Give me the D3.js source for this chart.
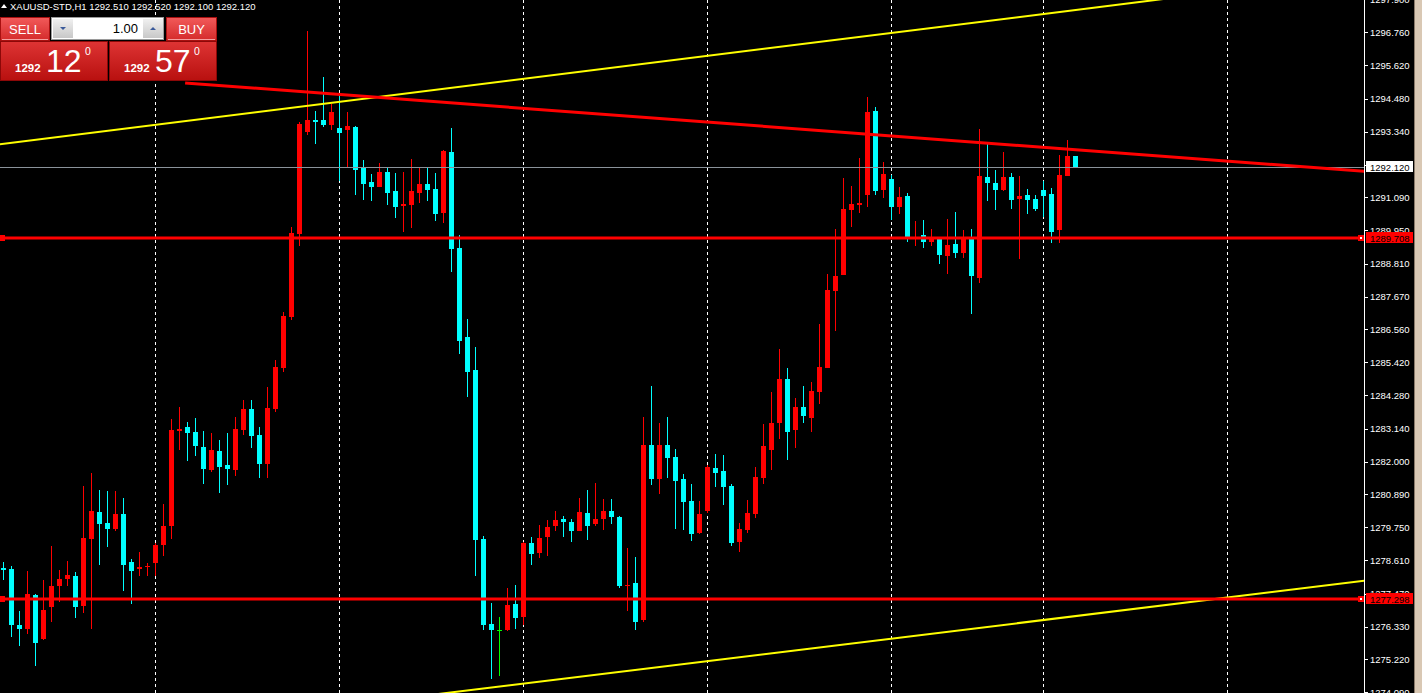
<!DOCTYPE html>
<html><head><meta charset="utf-8">
<script src="https://cdn.jsdelivr.net/npm/d3@7"></script>
<style>html,body{margin:0;padding:0;background:#000;overflow:hidden}</style>
</head><body><svg id="c" width="1422" height="693"></svg>
<script>
// ---------- DATA ----------
const symbolTitle = "XAUUSD-STD,H1";
const lastBarOHLC = ["1292.510", "1292.520", "1292.100", "1292.120"];
const opens = [1278.36,1278.33,1276.38,1276.24,1277.43,1275.90,1277.00,1277.72,1277.96,1278.08,
1277.03,1279.36,1280.28,1279.91,1279.70,1280.21,1278.57,1278.33,1278.39,1278.51,
1279.13,1279.81,1283.07,1283.20,1283.03,1282.52,1281.73,1282.38,1281.90,1281.73,
1283.10,1283.82,1282.93,1281.93,1283.82,1285.23,1286.98,1289.84,1293.35,1293.75,
1293.75,1293.59,1293.47,1293.41,1293.51,1292.11,1291.63,1291.46,1291.97,1291.32,
1290.80,1290.84,1291.25,1291.53,1291.39,1290.56,1292.64,1289.35,1286.29,1285.16,
1279.35,1276.44,1276.22,1276.22,1277.13,1276.68,1279.21,1278.85,1279.40,1279.81,
1280.04,1279.94,1279.64,1280.25,1279.85,1280.02,1280.32,1280.11,1277.72,1277.84,
1276.58,1282.58,1281.42,1282.58,1282.17,1281.42,1280.66,1279.56,1280.32,1281.79,
1281.69,1281.18,1279.25,1279.66,1280.21,1281.45,1282.41,1283.32,1284.86,1283.08,
1283.87,1283.49,1284.41,1285.24,1287.88,1288.43,1290.67,1290.84,1291.18,1294.07,
1291.35,1291.73,1290.74,1291.14,1289.65,1289.80,1289.57,1289.68,1289.09,1289.49,
1289.19,1289.67,1288.33,1291.79,1291.58,1291.35,1291.79,1291.04,1291.17,1291.03,
1291.34,1291.21,1289.98,1291.83,1292.51];
const highs = [1278.57,1278.43,1276.88,1278.26,1277.45,1277.95,1279.12,1278.29,1278.60,1278.22,
1281.18,1281.62,1281.04,1281.00,1281.00,1280.76,1278.67,1278.91,1278.53,1279.22,
1280.56,1283.48,1283.89,1283.37,1283.51,1283.07,1283.00,1282.76,1283.00,1283.55,
1284.13,1284.13,1283.20,1284.58,1285.50,1287.15,1290.07,1293.68,1296.81,1294.06,
1295.23,1294.30,1294.61,1294.02,1293.54,1292.38,1291.90,1292.28,1292.11,1291.94,
1291.97,1292.42,1292.14,1292.08,1291.94,1292.72,1293.47,1289.79,1286.91,1285.95,
1279.46,1277.14,1276.68,1277.67,1277.78,1279.23,1279.42,1279.84,1280.01,1280.32,
1280.15,1280.04,1280.76,1281.04,1281.28,1280.73,1280.73,1280.13,1279.05,1278.74,
1283.55,1284.61,1283.34,1283.55,1282.45,1281.59,1281.25,1280.66,1281.90,1282.28,
1282.24,1281.25,1279.91,1280.70,1281.83,1283.31,1284.40,1285.89,1285.21,1284.21,
1284.59,1284.76,1286.72,1288.47,1290.01,1291.77,1291.49,1292.45,1294.55,1294.20,
1292.32,1291.84,1291.46,1291.24,1290.28,1290.31,1290.00,1289.73,1290.35,1290.59,
1289.97,1290.00,1293.44,1292.92,1292.03,1292.65,1291.93,1291.82,1291.38,1291.17,
1291.65,1291.41,1292.55,1293.06,1292.52];
const lows = [1277.95,1275.97,1275.66,1276.07,1275.00,1275.88,1276.51,1277.17,1277.72,1276.65,
1276.79,1276.27,1278.47,1279.09,1279.61,1277.55,1277.13,1278.06,1278.08,1278.06,
1278.78,1279.36,1282.41,1282.03,1282.21,1281.25,1281.66,1280.94,1281.21,1281.52,
1282.93,1282.48,1281.45,1281.45,1283.72,1285.09,1286.88,1289.40,1293.23,1292.93,
1293.52,1293.41,1291.66,1292.08,1291.18,1291.01,1290.98,1291.44,1290.84,1290.39,
1289.91,1290.05,1290.91,1290.98,1290.29,1290.19,1288.54,1285.71,1284.23,1278.08,
1276.22,1274.54,1274.65,1276.19,1276.27,1276.40,1278.47,1278.68,1278.75,1279.64,
1279.40,1279.26,1279.62,1279.33,1279.78,1279.67,1279.85,1277.65,1276.86,1276.23,
1276.51,1281.21,1280.90,1281.45,1279.70,1279.66,1279.29,1279.53,1280.25,1281.14,
1280.52,1279.12,1278.91,1279.56,1280.08,1281.25,1281.73,1282.80,1282.05,1282.49,
1283.35,1283.01,1283.97,1285.23,1286.48,1288.42,1290.08,1290.56,1290.77,1291.18,
1291.08,1290.32,1290.50,1289.57,1289.43,1289.36,1289.40,1288.81,1288.47,1289.02,
1289.02,1287.09,1288.16,1290.98,1290.67,1291.29,1290.70,1288.98,1290.50,1290.63,
1290.43,1289.53,1289.53,1291.82,1292.10];
const closes = [1278.29,1276.38,1276.24,1277.47,1275.79,1276.92,1277.74,1277.98,1278.12,1277.00,
1279.39,1280.32,1279.87,1279.70,1280.21,1278.47,1278.26,1278.39,1278.43,1279.15,
1279.80,1283.10,1283.13,1283.00,1282.55,1281.76,1282.41,1281.83,1281.76,1283.13,
1283.82,1282.89,1281.93,1283.86,1285.26,1287.02,1289.87,1293.61,1293.75,1293.69,
1293.59,1294.02,1293.31,1293.54,1292.04,1291.53,1291.46,1291.97,1291.25,1290.77,
1290.87,1291.29,1291.53,1291.35,1290.53,1292.69,1289.33,1286.15,1285.08,1279.33,
1276.40,1276.22,1276.22,1277.09,1276.65,1279.21,1278.82,1279.39,1279.77,1280.01,
1279.92,1279.64,1280.28,1279.78,1280.04,1280.32,1280.09,1277.75,1277.78,1276.48,
1282.58,1281.42,1282.58,1282.14,1281.35,1280.63,1279.53,1280.21,1281.83,1281.62,
1281.14,1279.22,1279.70,1280.25,1281.49,1282.55,1283.34,1284.86,1283.01,1283.87,
1283.56,1284.45,1285.27,1287.92,1288.37,1290.70,1290.87,1290.91,1294.03,1291.32,
1291.90,1290.74,1291.11,1289.64,1289.72,1289.57,1289.70,1289.12,1289.45,1289.19,
1289.67,1288.37,1291.82,1291.59,1291.35,1291.79,1291.01,1291.14,1291.01,1290.70,
1291.15,1289.91,1291.86,1292.51,1292.12];
const gridBars = [19, 42, 65, 88, 111, 130, 153];
const tickLabels = ["1297.900","1296.760","1295.620","1294.480","1293.340","1292.200","1291.090",
"1289.950","1288.810","1287.670","1286.560","1285.420","1284.280","1283.140","1282.000",
"1280.890","1279.750","1278.610","1277.470","1276.330","1275.220","1274.090"];
const hLevels = [1289.708, 1277.298];
const bidPrice = 1292.120;
const askPrice = 1292.570;
const lotSize = "1.00";
// trend lines: [bar index, price] anchor pairs (first anchor = start of the ray)
const redTrend = [[22.7, 1295.02], [160, 1292.19]];
const yellowUpper = [[-2, 1292.86], [160, 1298.42]];
const yellowLower = [[40, 1273.54], [170.06, 1277.91]];

// ---------- CHART ----------
const W = 1422, H = 693, axisX = 1364;
const svg = d3.select("#c");
svg.append("rect").attr("width", W).attr("height", H).attr("fill", "#000");

const x = d3.scaleLinear().domain([0, 134]).range([3.5, 1075.5]);
const y = d3.scaleLinear().domain([1274.056, 1297.87]).range([H, 0]);

const defs = svg.append("defs");
defs.append("clipPath").attr("id", "plot").append("rect")
  .attr("x", 0).attr("y", 0).attr("width", axisX).attr("height", H);

const plot = svg.append("g").attr("clip-path", "url(#plot)");

// grid (day separators)
plot.selectAll("line.grid").data(gridBars).join("line")
  .attr("x1", d => x(d)).attr("x2", d => x(d))
  .attr("y1", 0).attr("y2", H)
  .attr("stroke", "#fff").attr("stroke-width", 1)
  .attr("stroke-dasharray", "3,3");

// candles
const data = opens.map((o, i) => ({i, o, h: highs[i], l: lows[i], c: closes[i]}));
const col = d => d.c > d.o ? "#ff0000" : (d.c < d.o ? "#00ffff" : "#00ff00");
const cg = plot.append("g").attr("shape-rendering", "crispEdges");
cg.selectAll("rect.wick").data(data).join("rect")
  .attr("x", d => x(d.i) - 0.5).attr("width", 1)
  .attr("y", d => Math.round(y(d.h)))
  .attr("height", d => Math.max(1, Math.round(y(d.l)) - Math.round(y(d.h))))
  .attr("fill", col);
cg.selectAll("rect.body").data(data).join("rect")
  .attr("x", d => x(d.i) - 2.5).attr("width", 5)
  .attr("y", d => Math.round(y(Math.max(d.o, d.c))))
  .attr("height", d => Math.max(1, Math.round(y(Math.min(d.o, d.c))) - Math.round(y(Math.max(d.o, d.c)))))
  .attr("fill", col);

// trend ray: starts at first anchor, extends to the right through the second
function trend(anchors, color, width) {
  const [[b1, p1], [b2, p2]] = anchors;
  const slope = (p2 - p1) / (b2 - b1);
  const bB = 175;
  plot.append("line")
    .attr("x1", x(b1)).attr("y1", y(p1))
    .attr("x2", x(bB)).attr("y2", y(p1 + slope * (bB - b1)))
    .attr("stroke", color).attr("stroke-width", width);
}
trend(yellowUpper, "#ffff00", 2);
trend(yellowLower, "#ffff00", 2);

// bid line
plot.append("line").attr("x1", 0).attr("x2", axisX)
  .attr("y1", Math.round(y(bidPrice)) + 0.5).attr("y2", Math.round(y(bidPrice)) + 0.5)
  .attr("stroke", "#8a929a").attr("stroke-width", 1);

trend(redTrend, "#ff0000", 3);

// horizontal levels
hLevels.forEach(p => {
  const yy = Math.round(y(p));
  plot.append("rect").attr("x", 0).attr("y", yy - 1.5).attr("width", axisX).attr("height", 3).attr("fill", "#ff0000");
  plot.append("rect").attr("x", axisX - 6).attr("y", yy - 3).attr("width", 6).attr("height", 6).attr("fill", "#ff0000");
  plot.append("rect").attr("x", axisX - 4).attr("y", yy - 1).attr("width", 2).attr("height", 2).attr("fill", "#fff");
  plot.append("rect").attr("x", 0).attr("y", yy - 3).attr("width", 5).attr("height", 6).attr("fill", "#ff0000");
});

// ---------- AXIS ----------
const ax = svg.append("g");
ax.append("rect").attr("x", axisX).attr("y", 0).attr("width", 1).attr("height", H).attr("fill", "#fff");
const tickVals = tickLabels.map(Number);
ax.selectAll("rect.tk").data(tickVals).join("rect")
  .attr("x", axisX + 1).attr("y", d => Math.round(y(d))).attr("width", 3).attr("height", 1).attr("fill", "#fff");
ax.selectAll("text.tl").data(tickLabels).join("text")
  .attr("x", 1370).attr("y", d => y(+d) + 3.5)
  .attr("font-family", "Liberation Sans, Arial, sans-serif").attr("font-size", "9.5px")
  .attr("fill", "#fff").text(d => d);

function priceTag(p, bg) {
  const yy = Math.round(y(p));
  ax.append("rect").attr("x", 1366).attr("y", yy - 6).attr("width", 47).attr("height", 11).attr("fill", bg);
  ax.append("text").attr("x", 1370).attr("y", yy + 3.5)
    .attr("font-family", "Liberation Sans, Arial, sans-serif").attr("font-size", "9.5px")
    .attr("fill", "#000").text(d3.format(".3f")(p));
}
priceTag(bidPrice, "#ffffff");
hLevels.forEach(p => priceTag(p, "#ff0000"));

// scroll strip
svg.append("rect").attr("x", 1414).attr("y", 0).attr("width", 8).attr("height", H).attr("fill", "#d9c8b4");
svg.append("rect").attr("x", 1414).attr("y", 0).attr("width", 1).attr("height", H).attr("fill", "#8a7a6a");

// ---------- HEADER ----------
svg.append("path").attr("d", "M1,8 L4,4 L7,8 Z").attr("fill", "#fff");
svg.append("text").attr("x", 10).attr("y", 9.5)
  .attr("font-family", "Liberation Sans, Arial, sans-serif").attr("font-size", "9.5px").attr("fill", "#fff")
  .text(symbolTitle + "  " + lastBarOHLC.join(" "));

// ---------- ONE-CLICK PANEL ----------
const gBtn = defs.append("linearGradient").attr("id", "gBtn").attr("x1", 0).attr("x2", 0).attr("y1", 0).attr("y2", 1);
gBtn.append("stop").attr("offset", "0%").attr("stop-color", "#f25a5a");
gBtn.append("stop").attr("offset", "100%").attr("stop-color", "#d42a2a");
const gBox = defs.append("linearGradient").attr("id", "gBox").attr("x1", 0).attr("x2", 0).attr("y1", 0).attr("y2", 1);
gBox.append("stop").attr("offset", "0%").attr("stop-color", "#de3434");
gBox.append("stop").attr("offset", "100%").attr("stop-color", "#b8100f");
const gGray = defs.append("linearGradient").attr("id", "gGray").attr("x1", 0).attr("x2", 0).attr("y1", 0).attr("y2", 1);
gGray.append("stop").attr("offset", "0%").attr("stop-color", "#f0f0f0");
gGray.append("stop").attr("offset", "100%").attr("stop-color", "#c8c8c8");

const panel = svg.append("g").attr("font-family", "Liberation Sans, Arial, sans-serif");
function btn(x0, w, label) {
  panel.append("rect").attr("x", x0 + 0.5).attr("y", 17.5).attr("width", w - 1).attr("height", 23)
    .attr("fill", "url(#gBtn)").attr("stroke", "#a81010");
  panel.append("rect").attr("x", x0 + 2).attr("y", 39).attr("width", w - 4).attr("height", 1).attr("fill", "#f5a0a0");
  panel.append("text").attr("x", x0 + w / 2).attr("y", 33.5).attr("text-anchor", "middle")
    .attr("font-size", "13px").attr("fill", "#fff").text(label);
}
btn(0, 50, "SELL");
btn(166, 51, "BUY");
// spin control
panel.append("rect").attr("x", 51.5).attr("y", 17.5).attr("width", 112).attr("height", 22).attr("fill", "#fff").attr("stroke", "#9a9a9a");
panel.append("rect").attr("x", 53).attr("y", 19).attr("width", 20).attr("height", 19).attr("fill", "url(#gGray)");
panel.append("rect").attr("x", 143).attr("y", 19).attr("width", 20).attr("height", 19).attr("fill", "url(#gGray)");
panel.append("path").attr("d", "M60,27 L66,27 L63,30 Z").attr("fill", "#3a5a9a");
panel.append("path").attr("d", "M150,30 L156,30 L153,27 Z").attr("fill", "#3a5a9a");
panel.append("text").attr("x", 138).attr("y", 33).attr("text-anchor", "end")
  .attr("font-size", "13px").attr("fill", "#000").text(lotSize);

function priceBox(x0, w, price) {
  const s = d3.format(".3f")(price);
  const big = s.slice(0, 4), mid = s.slice(5, 7), pip = s.slice(7);
  panel.append("rect").attr("x", x0 + 0.5).attr("y", 41.5).attr("width", w - 1).attr("height", 39)
    .attr("fill", "url(#gBox)").attr("stroke", "#8c0808");
  panel.append("text").attr("x", x0 + 15).attr("y", 72).attr("font-size", "11.5px").attr("font-weight", "bold")
    .attr("fill", "#fff").text(big);
  panel.append("text").attr("x", x0 + 46).attr("y", 72).attr("font-size", "32px")
    .attr("fill", "#fff").text(mid);
  panel.append("text").attr("x", x0 + 85).attr("y", 55).attr("font-size", "10.5px")
    .attr("fill", "#fff").text(pip);
}
priceBox(0, 108, bidPrice);
priceBox(109, 108, askPrice);
</script>
</body></html>
